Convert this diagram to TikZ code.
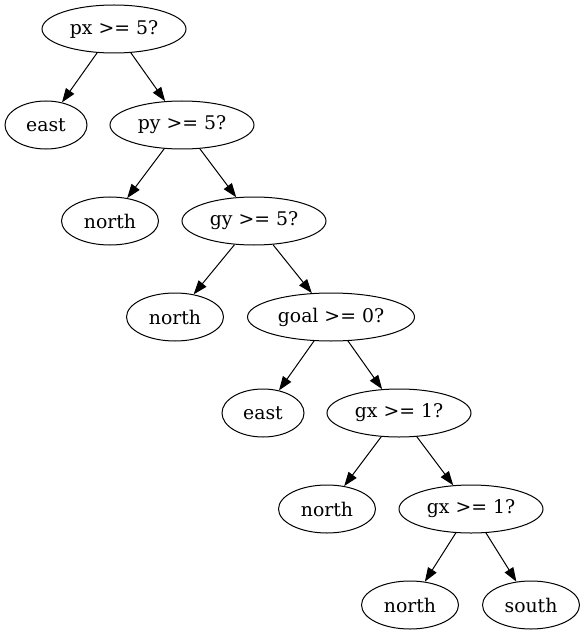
\documentclass[tikz,border=0pt]{standalone}
\usepackage{fontspec}
\setmainfont{DejaVu Serif}
\usetikzlibrary{shapes.geometric,arrows.meta}
\begin{document}
\begin{tikzpicture}[x=1bp,y=-1bp,
    leaf/.style={draw, ellipse, line width=1bp, inner sep=0pt, minimum height=48bp, font=\fontsize{18.9pt}{22pt}\selectfont},
    edge/.style={line width=1bp, -{Triangle[length=14bp, width=10bp]}}]
    \useasboundingbox (0,0) rectangle (585,635);
    \node [leaf, minimum width=144bp] (px) at (114,29) {px >= 5?};
    \node [leaf, minimum width=82bp] (eastA) at (46,125) {east};
    \node [leaf, minimum width=144bp] (py) at (182,125) {py >= 5?};
    \node [leaf, minimum width=97bp] (northA) at (110,221) {north};
    \node [leaf, minimum width=144bp] (gy) at (254,221) {gy >= 5?};
    \node [leaf, minimum width=97bp] (northB) at (175,317) {north};
    \node [leaf, minimum width=167bp] (goal) at (331,317) {goal >= 0?};
    \node [leaf, minimum width=82bp] (eastB) at (263,413) {east};
    \node [leaf, minimum width=144bp] (gxA) at (399,413) {gx >= 1?};
    \node [leaf, minimum width=97bp] (northC) at (327,509) {north};
    \node [leaf, minimum width=144bp] (gxB) at (471,509) {gx >= 1?};
    \node [leaf, minimum width=97bp] (northD) at (410,605) {north};
    \node [leaf, minimum width=97bp] (south) at (531,605) {south};
    \draw [edge] (px) -- (eastA);
    \draw [edge] (px) -- (py);
    \draw [edge] (py) -- (northA);
    \draw [edge] (py) -- (gy);
    \draw [edge] (gy) -- (northB);
    \draw [edge] (gy) -- (goal);
    \draw [edge] (goal) -- (eastB);
    \draw [edge] (goal) -- (gxA);
    \draw [edge] (gxA) -- (northC);
    \draw [edge] (gxA) -- (gxB);
    \draw [edge] (gxB) -- (northD);
    \draw [edge] (gxB) -- (south);
\end{tikzpicture}
\end{document}
